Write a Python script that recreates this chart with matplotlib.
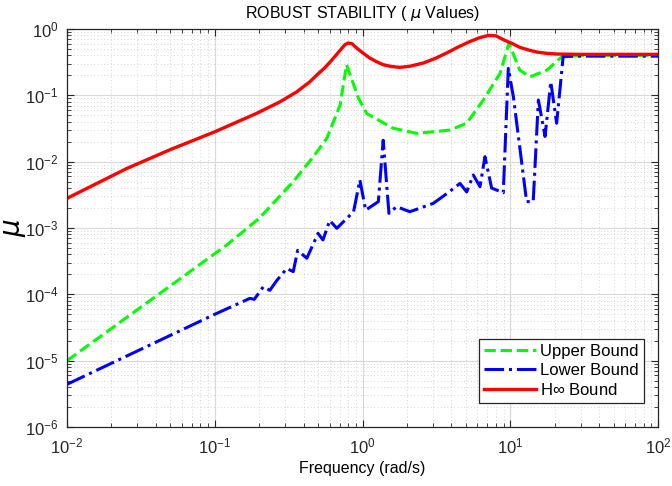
import matplotlib
matplotlib.use('Agg')
import matplotlib.pyplot as plt
from matplotlib.ticker import LogLocator, NullFormatter

plt.rcParams['font.family'] = ['Liberation Sans', 'DejaVu Sans']
plt.rcParams['mathtext.fontset'] = 'custom'
plt.rcParams['mathtext.rm'] = 'Liberation Sans'

# upper bound (green)
w_up = [0.01, 0.12, 0.20, 0.34, 0.465, 0.573, 0.705, 0.78, 0.94, 1.07, 1.61, 2.33,
        3.91, 5.07, 6.57, 8.53, 9.8, 11.6, 13.6, 17.7, 22.3, 30, 100]
mu_up = [1e-5, 5.5e-4, 1.4e-3, 5.0e-3, 0.0119, 0.0224, 0.071, 0.29, 0.09, 0.053, 0.032, 0.0267,
         0.030, 0.038, 0.085, 0.215, 0.61, 0.24, 0.19, 0.24, 0.38, 0.40, 0.40]

# lower bound (blue)
w_lo = [0.01, 0.1, 0.173, 0.185, 0.213, 0.236, 0.262, 0.307, 0.34, 0.364, 0.42, 0.50,
        0.54, 0.60, 0.67, 0.87, 0.96, 1.05, 1.28, 1.38, 1.51, 1.70, 2.09, 3.01,
        3.72, 4.57, 5.07, 5.62, 6.24, 6.74, 7.48, 8.97, 9.7, 10.5, 12.9, 14.3,
        15.5, 17.2, 18.8, 20.6, 22.8, 30, 100]
mu_lo = [4.4e-6, 5.0e-5, 8.7e-5, 8.4e-5, 1.3e-4, 1.15e-4, 1.6e-4, 2.45e-4, 2.2e-4, 4.6e-4, 3.5e-4, 8.3e-4,
         6.6e-4, 1.3e-3, 9.9e-4, 1.76e-3, 5.3e-3, 1.86e-3, 2.5e-3, 0.021, 1.66e-3, 2.1e-3, 1.76e-3, 2.35e-3,
         3.3e-3, 4.7e-3, 3.5e-3, 6.3e-3, 4.2e-3, 0.0119, 4.0e-3, 3.4e-3, 0.255, 0.095, 2.5e-3, 2.5e-3,
         0.085, 0.024, 0.16, 0.038, 0.385, 0.39, 0.39]

# H-infinity bound (red)
w_hinf = [0.01, 0.0254, 0.05, 0.1, 0.192, 0.277, 0.359, 0.44, 0.49, 0.56, 0.62, 0.69,
          0.76, 0.80, 0.85, 0.91, 1.0, 1.12, 1.25, 1.38, 1.57, 1.79, 2.1, 2.58,
          3.1, 3.71, 4.4, 5.35, 6.2, 7.1, 8.0, 8.98, 10.2, 11.6, 13.2, 15.1,
          17.6, 20.6, 30, 100]
mu_hinf = [2.8e-3, 7.9e-3, 0.0152, 0.0282, 0.0535, 0.080, 0.113, 0.160, 0.202, 0.265, 0.34, 0.45,
           0.58, 0.615, 0.60, 0.52, 0.44, 0.365, 0.32, 0.29, 0.272, 0.264, 0.275, 0.307,
           0.36, 0.435, 0.53, 0.65, 0.74, 0.80, 0.79, 0.69, 0.61, 0.53, 0.485, 0.45,
           0.43, 0.42, 0.415, 0.415]

fig = plt.figure(figsize=(6.72, 4.86), dpi=100)
ax = fig.add_axes([0.0997, 0.1214, 0.8795, 0.8189])

ax.loglog(w_up, mu_up, '--', color='#00ff00', lw=2.2, label='Upper Bound')
ax.loglog(w_lo, mu_lo, '-.', color='#0000ff', lw=2.2, label='Lower Bound')
ax.loglog(w_hinf, mu_hinf, '-', color='#ff0000', lw=2.4, label=r'H$\infty$ Bound')

ax.set_xlim(1e-2, 1e2)
ax.set_ylim(1e-6, 1e0)
ax.xaxis.set_major_locator(LogLocator(base=10, numticks=10))
ax.yaxis.set_major_locator(LogLocator(base=10, numticks=10))
ax.xaxis.set_minor_locator(LogLocator(base=10, subs=range(2, 10), numticks=20))
ax.yaxis.set_minor_locator(LogLocator(base=10, subs=range(2, 10), numticks=20))
ax.xaxis.set_minor_formatter(NullFormatter())
ax.yaxis.set_minor_formatter(NullFormatter())

ax.grid(True, which='major', color='#d9d9d9', lw=0.8, ls='-')
ax.grid(True, which='minor', color='#c8c8c8', lw=0.6, ls=(0, (1, 3)))
ax.set_axisbelow(True)

ax.tick_params(which='both', direction='in', top=True, right=True, colors='#262626')
ax.tick_params(which='major', length=5, labelsize=12)
ax.tick_params(axis='x', which='major', pad=7)
ax.tick_params(axis='y', which='major', pad=6)
ax.tick_params(which='minor', length=3)
for s in ax.spines.values():
    s.set_color('#262626')
    s.set_linewidth(0.9)

ax.set_title(r'ROBUST STABILITY ( $\mu$ Values)', fontsize=11.5, pad=8)
ax.set_xlabel('Frequency (rad/s)', fontsize=11.5, labelpad=3)
ax.set_ylabel(r'$\mu$', fontsize=20)
ax.yaxis.set_label_coords(-0.066, 0.5)

leg = ax.legend(loc='lower right', bbox_to_anchor=(0.976, 0.060), borderaxespad=0,
                fontsize=12, fancybox=False, framealpha=1, edgecolor='#262626',
                handlelength=3.1, borderpad=0.3, labelspacing=0.25, handletextpad=0.25)
leg.get_frame().set_linewidth(0.9)

fig.savefig('out.png', dpi=100)
